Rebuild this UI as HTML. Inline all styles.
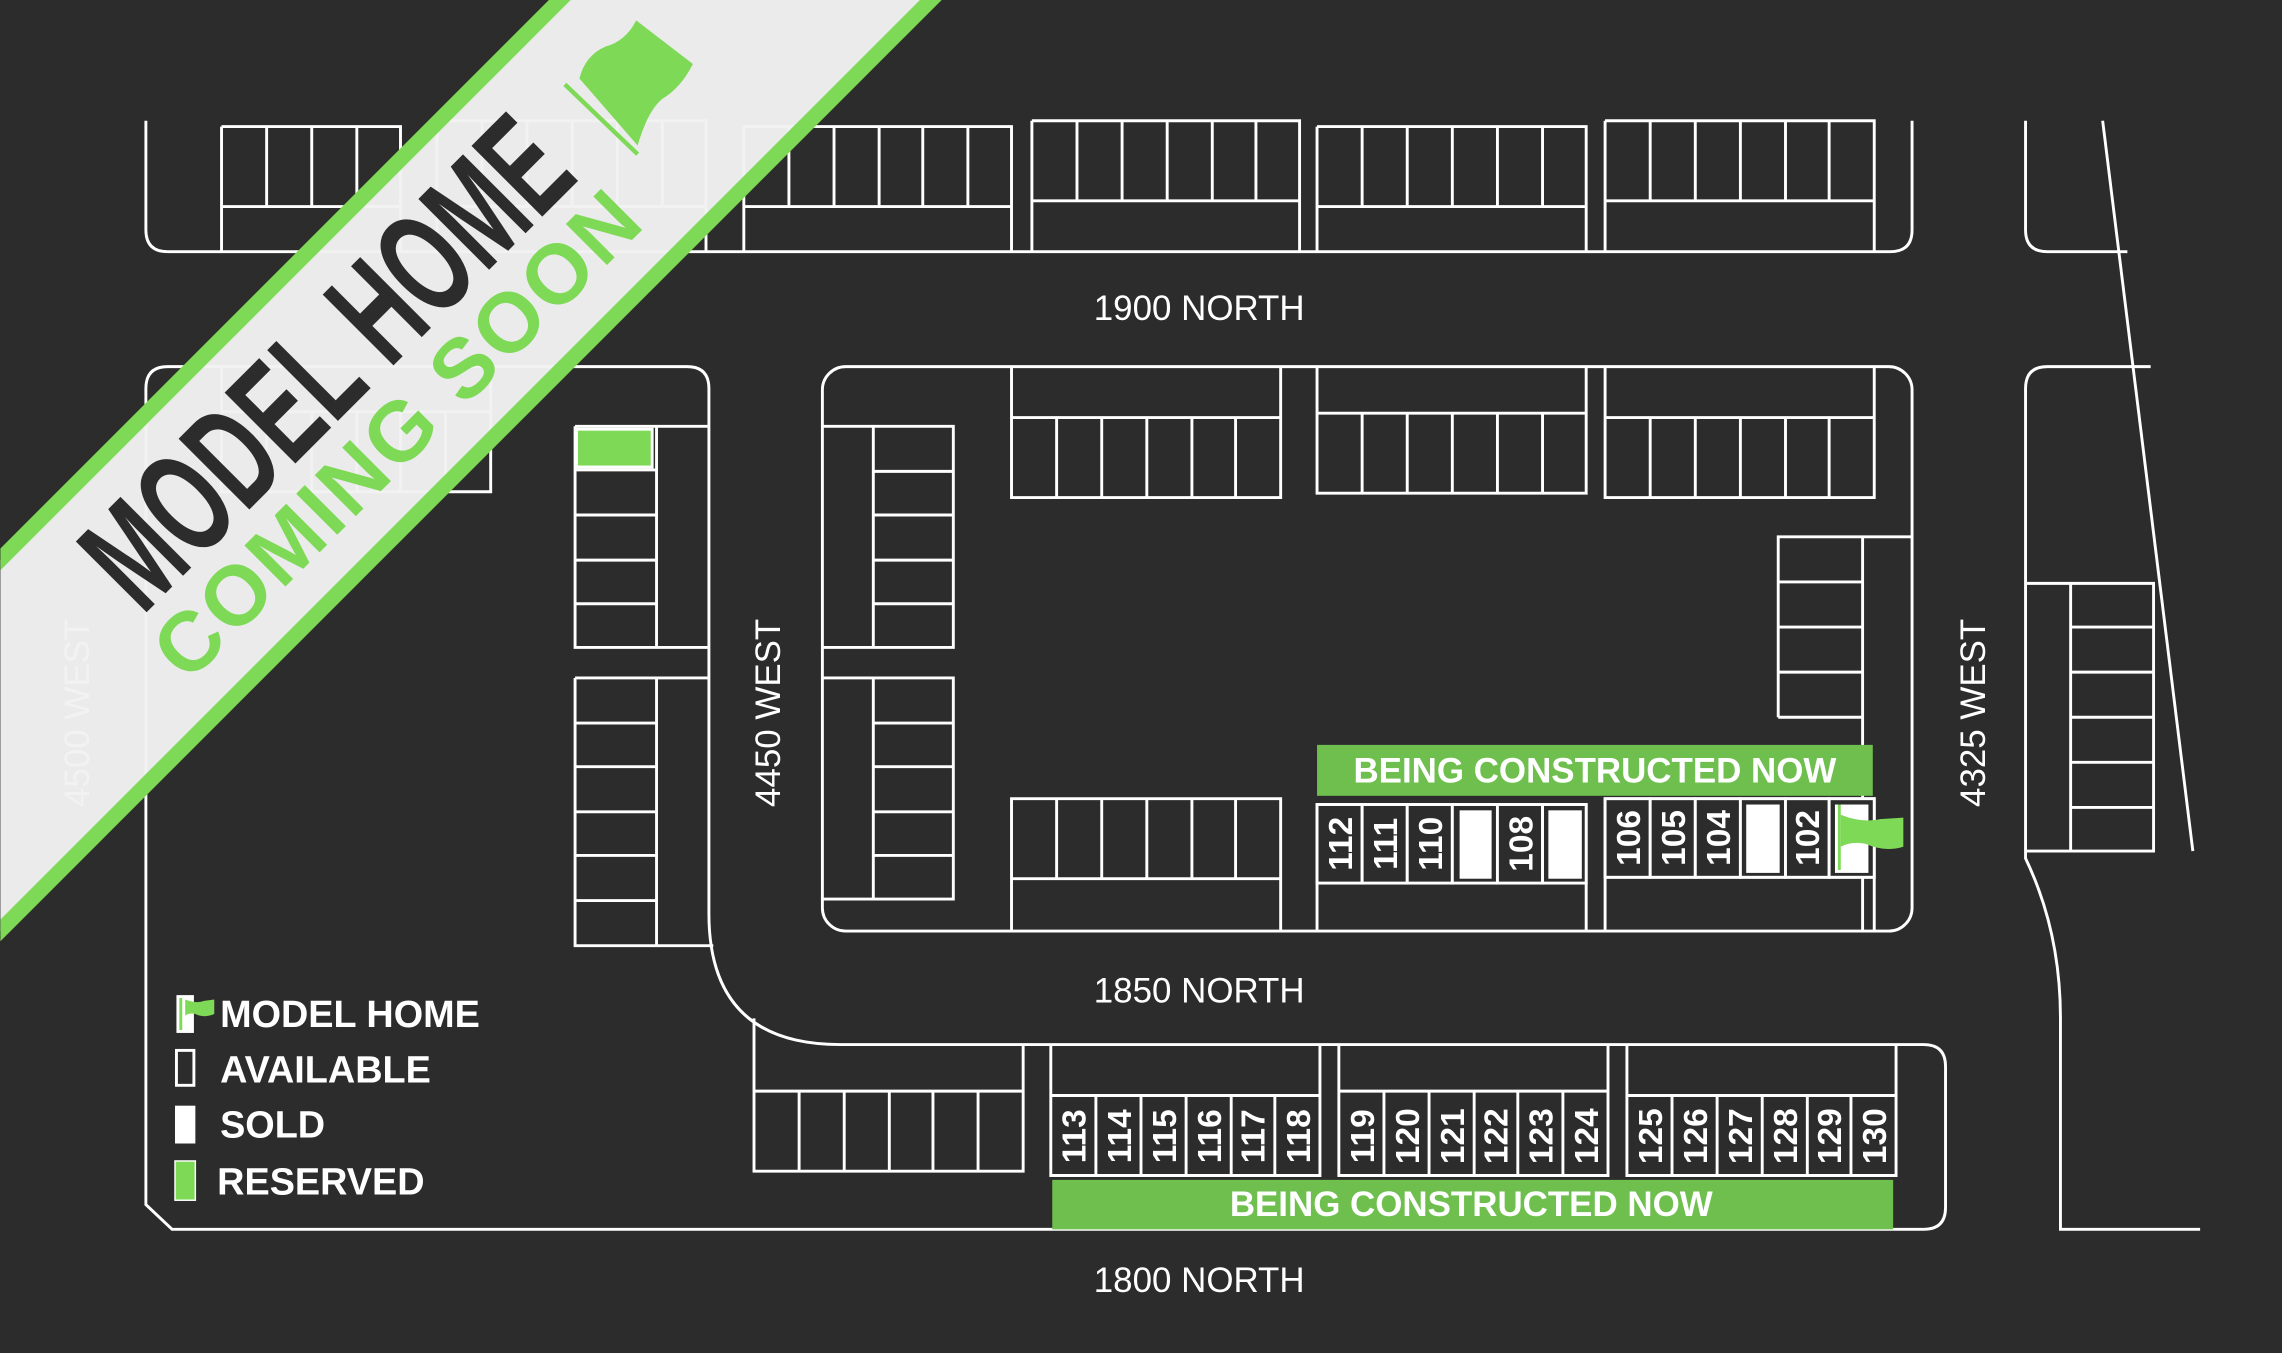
<!DOCTYPE html>
<html><head><meta charset="utf-8"><style>
html,body{margin:0;padding:0;background:#2c2c2c;}
svg{display:block;}
text{font-family:"Liberation Sans",sans-serif;}
.n{font-weight:bold;font-size:23px;fill:#fff;text-anchor:middle;}
</style></head><body>
<svg width="2282" height="1353" viewBox="0 0 1568 930" xmlns="http://www.w3.org/2000/svg">
<rect width="1568" height="930" fill="#2c2c2c"/>
<g fill="none" stroke="#fff" stroke-width="2">
<path d="M100 83 V158 Q100 173 115 173 H1299 Q1314 173 1314 158 V83"/>
<path d="M152 87H275V173M152 87V173M152 142H275M183 87V142M214 87V142M245 87V142"/>
<path d="M300 83H485V173M300 83V173M300 142H485M331 83V142M362 83V142M393 83V142M424 83V142M455 83V142"/>
<path d="M511 87H695V173M511 87V173M511 142H695M542 87V142M573 87V142M604 87V142M634 87V142M665 87V142"/>
<path d="M709 83H893V173M709 83V173M709 138H893M740 83V138M771 83V138M802 83V138M833 83V138M863 83V138"/>
<path d="M905 87H1090V173M905 87V173M905 142H1090M936 87V142M967 87V142M998 87V142M1029 87V142M1060 87V142"/>
<path d="M1103 83H1288V173M1103 83V173M1103 138H1288M1134 83V138M1165 83V138M1196 83V138M1227 83V138M1257 83V138"/>
<path d="M1392 83V158Q1392 173 1407 173H1462"/>
<path d="M1445 83L1507 585"/>
<path d="M1478 252H1407Q1392 252 1392 267V590Q1416 640 1416 700V845H1512"/>
<path d="M1392 401H1480V585H1392M1423 401V585M1423 431H1480M1423 462H1480M1423 493H1480M1423 524H1480M1423 555H1480"/>
<rect x="565" y="252" width="749" height="388" rx="16"/>
<path d="M695 252V342H880V252M695 287H880M726 287V342M757 287V342M788 287V342M819 287V342M849 287V342"/>
<path d="M905 252V339H1090V252M905 284H1090M936 284V339M967 284V339M998 284V339M1029 284V339M1060 284V339"/>
<path d="M1103 252V342H1288V252M1103 287H1288M1134 287V342M1165 287V342M1196 287V342M1227 287V342M1257 287V342"/>
<path d="M565 293H655V445H565M600 293V445M600 324H655M600 354H655M600 385H655M600 415H655"/>
<path d="M565 466H655V618H565M600 466V618M600 497H655M600 527H655M600 558H655M600 588H655"/>
<path d="M695 640V549H880V640M695 604H880M726 549V604M757 549V604M788 549V604M819 549V604M849 549V604"/>
<path d="M905 640V553H1090V640M905 607H1090"/>
<path d="M1103 640V549H1288V640M1103 603H1288"/>
<path d="M1314 369H1222V493M1280 369V640M1222 400H1280M1222 431H1280M1222 462H1280M1222 493H1280"/>
<path d="M472 252H115Q100 252 100 267V828L118 845H1322Q1337 845 1337 830V733Q1337 718 1322 718H577Q487 718 487 628V267Q487 252 472 252"/>
<path d="M395 293H486M395 293V445H486M451 293V445M395 354H451M395 385H451M395 415H451M395 323H451"/>
<path d="M395 466H486M395 466V650H490M451 466V650M395 497H451M395 527H451M395 558H451M395 588H451M395 619H451"/>
<path d="M518 700V805H703V718M518 750H703M549 750V805M580 750V805M611 750V805M641 750V805M672 750V805"/>
<path d="M722 718V808H907V718M722 753H907"/>
<path d="M920 718V808H1105V718M920 750H1105"/>
<path d="M1118 718V808H1303V718M1118 753H1303"/>
<path d="M152 252V338H337V252M152 283H337M183 283V338M214 283V338M245 283V338M275 283V338M306 283V338"/>
</g>
<g stroke="#fff" stroke-width="2" fill="#2c2c2c">
<rect x="905" y="553" width="31" height="54"/><rect x="936" y="553" width="31" height="54"/><rect x="967" y="553" width="31" height="54"/>
<rect x="998" y="553" width="31" height="54"/><rect x="1029" y="553" width="31" height="54"/><rect x="1060" y="553" width="30" height="54"/>
<rect x="1103" y="549" width="31" height="54"/><rect x="1134" y="549" width="31" height="54"/><rect x="1165" y="549" width="31" height="54"/>
<rect x="1196" y="549" width="31" height="54"/><rect x="1227" y="549" width="30" height="54"/><rect x="1257" y="549" width="31" height="54"/>
</g>
<rect x="1003" y="557" width="22" height="47" fill="#fff"/>
<rect x="1064" y="557" width="23" height="47" fill="#fff"/>
<rect x="1200" y="553" width="23" height="47" fill="#fff"/>
<rect x="1261" y="553" width="23" height="47" fill="#fff"/>
<rect x="1263" y="553" width="2" height="45" fill="#7ed957"/>
<path d="M1265 560Q1280 566 1292 563L1308 562V582Q1295 586 1282 580Q1272 578 1265 582Z" fill="#7ed957"/>
<g class="n">
<text transform="translate(929,580) rotate(-90)">112</text>
<text transform="translate(960,580) rotate(-90)">111</text>
<text transform="translate(991,580) rotate(-90)">110</text>
<text transform="translate(1053,580) rotate(-90)">108</text>
<text transform="translate(1127,576) rotate(-90)">106</text>
<text transform="translate(1158,576) rotate(-90)">105</text>
<text transform="translate(1189,576) rotate(-90)">104</text>
<text transform="translate(1250,576) rotate(-90)">102</text>
</g>
<g stroke="#fff" stroke-width="2" fill="none">
<path d="M753 753V808M784 753V808M815 753V808M846 753V808M876 753V808"/>
<path d="M951 750V808M982 750V808M1013 750V808M1043 750V808M1074 750V808"/>
<path d="M1149 753V808M1180 753V808M1211 753V808M1242 753V808M1272 753V808"/>
</g>
<g class="n">
<text transform="translate(746,781) rotate(-90)">113</text>
<text transform="translate(777,781) rotate(-90)">114</text>
<text transform="translate(808,781) rotate(-90)">115</text>
<text transform="translate(839,781) rotate(-90)">116</text>
<text transform="translate(869,781) rotate(-90)">117</text>
<text transform="translate(900,781) rotate(-90)">118</text>
<text transform="translate(944,781) rotate(-90)">119</text>
<text transform="translate(975,781) rotate(-90)">120</text>
<text transform="translate(1006,781) rotate(-90)">121</text>
<text transform="translate(1036,781) rotate(-90)">122</text>
<text transform="translate(1067,781) rotate(-90)">123</text>
<text transform="translate(1098,781) rotate(-90)">124</text>
<text transform="translate(1142,781) rotate(-90)">125</text>
<text transform="translate(1173,781) rotate(-90)">126</text>
<text transform="translate(1204,781) rotate(-90)">127</text>
<text transform="translate(1235,781) rotate(-90)">128</text>
<text transform="translate(1265,781) rotate(-90)">129</text>
<text transform="translate(1296,781) rotate(-90)">130</text>
</g>
<rect x="905" y="512" width="382" height="35" fill="#6fbf4f"/>
<text x="1096" y="538" fill="#fff" font-size="24" font-weight="bold" text-anchor="middle">BEING CONSTRUCTED NOW</text>
<rect x="723" y="811" width="578" height="34" fill="#6fbf4f"/>
<text x="1011" y="836" fill="#fff" font-size="24" font-weight="bold" text-anchor="middle">BEING CONSTRUCTED NOW</text>
<rect x="396" y="295" width="52" height="26" fill="#7ed957" stroke="#fff" stroke-width="2"/>
<g fill="#fff" font-size="24" text-anchor="middle">
<text x="824" y="220">1900 NORTH</text>
<text x="824" y="689">1850 NORTH</text>
<text x="824" y="888">1800 NORTH</text>
<text transform="translate(536,490) rotate(-90)">4450 WEST</text>
<text transform="translate(1364,490) rotate(-90)">4325 WEST</text>
<text transform="translate(61,490) rotate(-90)">4500 WEST</text>
</g>
<rect x="121" y="684" width="12" height="26" fill="#fff"/>
<path d="M124 686V708" stroke="#7ed957" stroke-width="2"/>
<path d="M127 687Q135 690 140 688L147 687V697Q140 700 134 697Q130 696 127 698Z" fill="#7ed957"/>
<rect x="121" y="722" width="12" height="24" fill="none" stroke="#fff" stroke-width="2"/>
<rect x="120" y="760" width="14" height="26" fill="#fff"/>
<rect x="120" y="798" width="14" height="27" fill="#7ed957" stroke="#fff" stroke-width="1"/>
<g fill="#fff" font-size="26" font-weight="bold">
<text x="151" y="706">MODEL HOME</text>
<text x="151" y="744">AVAILABLE</text>
<text x="151" y="782">SOLD</text>
<text x="149" y="821">RESERVED</text>
</g>
<polygon points="385,0 640,0 0,640 0,385" fill="#f2f2f2" opacity="0.97"/>
<polygon points="377,0 392,0 0,392 0,377" fill="#7ed957"/>
<polygon points="632,0 647,0 0,647 0,632" fill="#7ed957"/>
<g transform="translate(222,247) rotate(-45)">
<text x="0" y="37" text-anchor="middle" font-size="100" font-weight="bold" fill="#2c2c2c" transform="scale(0.62,1)">MODEL HOME</text>
<text x="0" y="92" text-anchor="middle" font-size="58" font-weight="bold" fill="#7ed957" letter-spacing="2">COMING SOON</text>
</g>
<path d="M388 58L438 106" stroke="#7ed957" stroke-width="3"/>
<path d="M398 54Q402 38 416 32Q430 28 437 14L476 44Q468 60 455 68Q445 76 438 100Z" fill="#7ed957"/>
</svg>
</body></html>
